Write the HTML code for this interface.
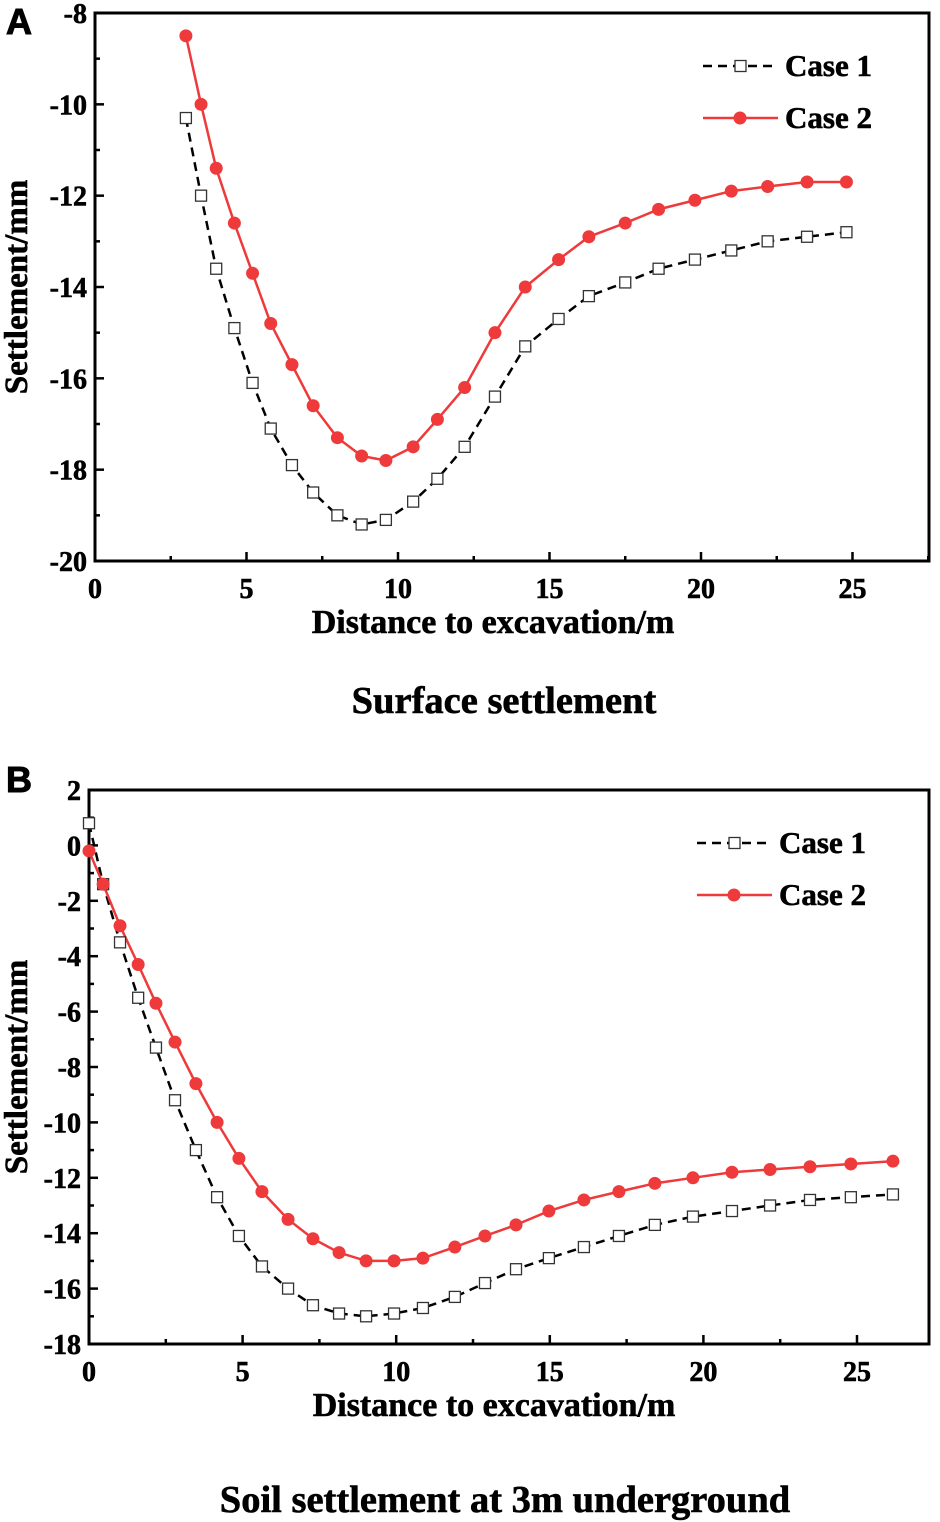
<!DOCTYPE html>
<html><head><meta charset="utf-8">
<style>
html,body{margin:0;padding:0;background:#fff;}
svg{display:block;}
text{font-family:"Liberation Serif",serif;font-weight:bold;fill:#000;stroke:#000;stroke-width:0.6;}
text.pl{font-family:"Liberation Sans",sans-serif;stroke-width:1;}
</style></head>
<body>
<svg id="svg" width="940" height="1522" viewBox="0 0 940 1522" xmlns="http://www.w3.org/2000/svg"></svg>
<script>
// Panel A data
const aX = [3,3.5,4,4.6,5.2,5.8,6.5,7.2,8,8.8,9.6,10.5,11.3,12.2,13.2,14.2,15.3,16.3,17.5,18.6,19.8,21,22.2,23.5,24.8];
const aCase1 = [-10.3,-12,-13.6,-14.9,-16.1,-17.1,-17.9,-18.5,-19,-19.2,-19.1,-18.7,-18.2,-17.5,-16.4,-15.3,-14.7,-14.2,-13.9,-13.6,-13.4,-13.2,-13,-12.9,-12.8];
const aCase2 = [-8.5,-10,-11.4,-12.6,-13.7,-14.8,-15.7,-16.6,-17.3,-17.7,-17.8,-17.5,-16.9,-16.2,-15,-14,-13.4,-12.9,-12.6,-12.3,-12.1,-11.9,-11.8,-11.7,-11.7];
const aXTicks = [0,5,10,15,20,25];
const aYTicks = [-8,-10,-12,-14,-16,-18,-20];
// Panel B data
const bX = [0,0.46,1.01,1.6,2.18,2.8,3.48,4.17,4.88,5.63,6.48,7.29,8.14,9.02,9.93,10.87,11.91,12.89,13.9,14.97,16.11,17.25,18.42,19.66,20.93,22.17,23.47,24.8,26.17];
const bCase1 = [0.8,-1.4,-3.5,-5.5,-7.3,-9.2,-11,-12.7,-14.1,-15.2,-16,-16.6,-16.9,-17,-16.9,-16.7,-16.3,-15.8,-15.3,-14.9,-14.5,-14.1,-13.7,-13.4,-13.2,-13,-12.8,-12.7,-12.6];
const bCase2 = [-0.2,-1.4,-2.9,-4.3,-5.7,-7.1,-8.6,-10,-11.3,-12.5,-13.5,-14.2,-14.7,-15,-15,-14.9,-14.5,-14.1,-13.7,-13.2,-12.8,-12.5,-12.2,-12,-11.8,-11.7,-11.6,-11.5,-11.4];
const bXTicks = [0,5,10,15,20,25];
const bYTicks = [2,0,-2,-4,-6,-8,-10,-12,-14,-16,-18];

const NS="http://www.w3.org/2000/svg";
const svg=document.getElementById('svg');
function mk(tag,attrs,parent,txt){const e=document.createElementNS(NS,tag);for(const k in attrs)e.setAttribute(k,attrs[k]);if(txt!==undefined)e.textContent=txt;(parent||svg).appendChild(e);return e;}

function panel(cfg){
  const g=mk('g',{});
  
  
  const {L,R,T,B,xmin,xmax,ymin,ymax}=cfg;
  const sx=v=>L+(v-xmin)/(xmax-xmin)*(R-L);
  const sy=v=>B-(v-ymin)/(ymax-ymin)*(B-T);
  const frame=mk('rect',{x:L,y:T,width:R-L,height:B-T,fill:'none',stroke:'#000','stroke-width':3},g);
  
  
  cfg.xticks.forEach(v=>{
    const x=sx(v);
    mk('line',{x1:x,y1:B,x2:x,y2:B-9,stroke:'#000','stroke-width':2.5},g);
    const xm=sx(v+2.5);
    if(v+2.5<xmax) mk('line',{x1:xm,y1:B,x2:xm,y2:B-5,stroke:'#000','stroke-width':2.5},g);
    const t=mk('text',{x:x,y:B+37,'text-anchor':'middle','font-size':28},g,String(v));
    
    
  });
  cfg.yticks.forEach(v=>{
    const y=sy(v);
    mk('line',{x1:L,y1:y,x2:L+9,y2:y,stroke:'#000','stroke-width':2.5},g);
    if(v-1>=ymin){const ym=sy(v-1);mk('line',{x1:L,y1:ym,x2:L+5,y2:ym,stroke:'#000','stroke-width':2.5},g);}
    const t=mk('text',{x:L-8,y:y+10,'text-anchor':'end','font-size':28},g,String(v));
    
    
  });
  const xt=mk('text',{x:cfg.xtx,y:B+72,'text-anchor':'middle','font-size':34},g,cfg.xtitle);
  
  
  const yc=(T+B)/2;
  const yt=mk('text',{x:0,y:0,'text-anchor':'middle','font-size':33,transform:`translate(${cfg.ytx},${yc}) rotate(-90)`},g,'Settlement/mm');
  
  
  const pl=mk('text',{x:cfg.plx,y:cfg.ply,'font-size':36,class:'pl'},g,cfg.panelLabel);
  
  
  const cap=mk('text',{x:cfg.capx,y:cfg.capy,'text-anchor':'middle','font-size':38.5},g,cfg.caption);
  
  
  const p1=cfg.xs.map((x,i)=>sx(x)+','+sy(cfg.c1[i])).join(' ');
  const p2=cfg.xs.map((x,i)=>sx(x)+','+sy(cfg.c2[i])).join(' ');
  const l1=mk('polyline',{points:p1,fill:'none',stroke:'#000','stroke-width':2.5,'stroke-dasharray':'9,6'},g);
  
  
  const l2=mk('polyline',{points:p2,fill:'none',stroke:'#ee3a3a','stroke-width':2.5},g);
  
  
  cfg.xs.forEach((x,i)=>{
    const r=mk('rect',{x:sx(x)-5.5,y:sy(cfg.c1[i])-5.5,width:11,height:11,fill:'#fff',stroke:'#333','stroke-width':1.3},g);
    
    
  });
  cfg.xs.forEach((x,i)=>{
    const c=mk('circle',{cx:sx(x),cy:sy(cfg.c2[i]),r:6.5,fill:'#ee3a3a'},g);
    
    
  });
  const lx=cfg.lgx, ly=cfg.lgy;
  const lg=mk('g',{},g);
  
  
  mk('line',{x1:lx,y1:ly,x2:lx+75,y2:ly,stroke:'#000','stroke-width':2.5,'stroke-dasharray':'9,6'},lg);
  mk('rect',{x:lx+32,y:ly-5.5,width:11,height:11,fill:'#fff',stroke:'#333','stroke-width':1.3},lg);
  mk('text',{x:lx+82,y:ly+10,'font-size':31},lg,'Case 1');
  mk('line',{x1:lx,y1:ly+52,x2:lx+75,y2:ly+52,stroke:'#ee3a3a','stroke-width':2.5},lg);
  mk('circle',{cx:lx+37,cy:ly+52,r:6.5,fill:'#ee3a3a'},lg);
  mk('text',{x:lx+82,y:ly+62,'font-size':31},lg,'Case 2');
}

panel({name:'panel-a-chart',L:95,R:929,T:13,B:561,xmin:0,xmax:(929-95)/30.3,ymin:-20,ymax:-8,
  xticks:aXTicks,yticks:aYTicks,xs:aX,c1:aCase1,c2:aCase2,
  xtitle:'Distance to  excavation/m',xtx:493,ytx:27,panelLabel:'A',plx:6,ply:34,
  caption:'Surface settlement',capx:504,capy:713,lgx:703,lgy:66});
panel({name:'panel-b-chart',L:89,R:929,T:790,B:1344,xmin:0,xmax:(929-89)/30.72,ymin:-18,ymax:2,
  xticks:bXTicks,yticks:bYTicks,xs:bX,c1:bCase1,c2:bCase2,
  xtitle:'Distance to excavation/m',xtx:494,ytx:27,panelLabel:'B',plx:6,ply:792,
  caption:'Soil settlement at 3m underground',capx:505,capy:1512,lgx:697,lgy:843});
</script>
</body></html>
